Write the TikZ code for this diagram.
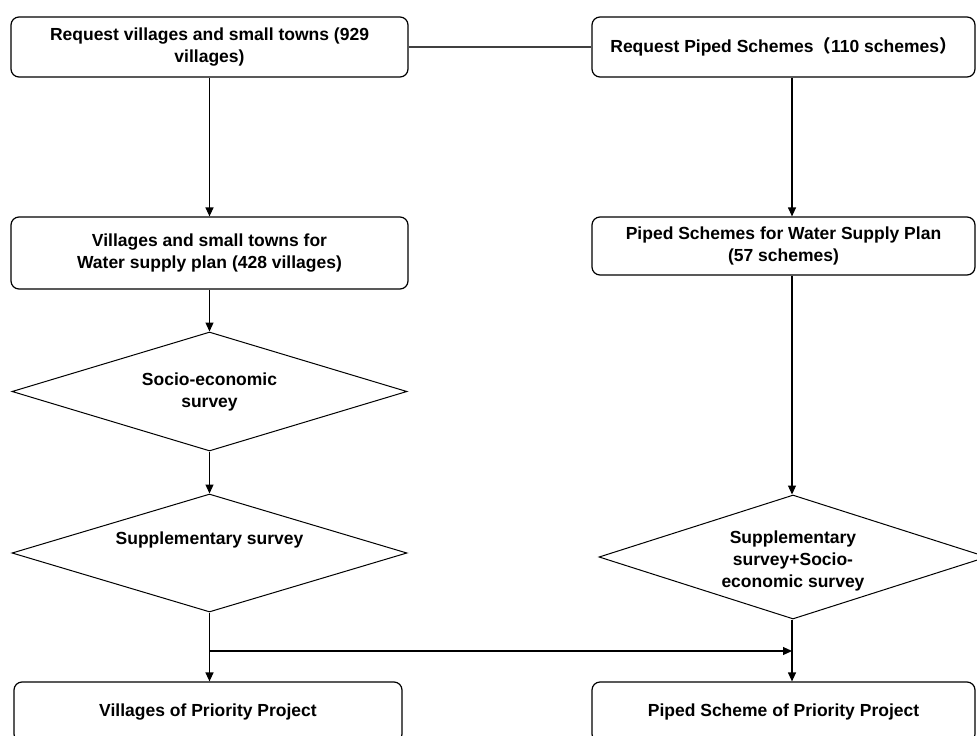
\documentclass[tikz,border=0pt]{standalone}
\usepackage{fontspec}
\setmainfont{Liberation Sans}
\newfontfamily\cjk{Noto Sans CJK SC}
\usepackage{tikz}
\usetikzlibrary{positioning,calc,arrows.meta,shapes.geometric}
\tikzset{flowbox/.style={draw, line width=1.2pt, rounded corners=8pt, align=center, inner sep=0pt, font=\bfseries\fontsize{17.5}{22}\selectfont}}
\tikzset{decide/.style={diamond, draw, line width=1pt, aspect=3.2, inner sep=0pt, align=center, font=\bfseries\fontsize{17.5}{22}\selectfont}}
\tikzset{arr/.style={draw, line width=1.2pt, -{Triangle[length=9pt,width=8pt]}}}
\tikzset{plain/.style={draw, line width=1.5pt, black!75}}

\begin{document}
\begin{tikzpicture}[x=1pt, y=-1pt]
	\useasboundingbox (0,0) rectangle (977,736);
	\clip (0,0) rectangle (977,736);
	% left column
	\node[flowbox, minimum width=397pt, minimum height=60pt] (reqV) at (209.5,47)
		{Request villages and small towns (929\\ villages)};
	\node[flowbox, minimum width=397pt, minimum height=72pt] (planV) at (209.5,253)
		{Villages and small towns for\\ Water supply plan (428 villages)};
	\node[decide, minimum width=395pt, minimum height=119pt] (socio) at (209.5,391.5)
		{Socio-economic\\ survey};
	\node[decide, minimum width=395pt, minimum height=118pt] (supV) at (209.5,553) {};
	\node[font=\bfseries\fontsize{17.5}{22}\selectfont] (supVt) at (209.5,540) {Supplementary survey};
	\node[flowbox, minimum width=388pt, minimum height=60pt] (prioV) at (208,712)
		{Villages of Priority Project};
	% right column
	\node[flowbox, minimum width=383pt, minimum height=60pt] (reqP) at (783.5,47)
		{Request Piped Schemes{\cjk （}110 schemes{\cjk ）}};
	\node[flowbox, minimum width=383pt, minimum height=58pt] (planP) at (783.5,246)
		{Piped Schemes for Water Supply Plan\\ (57 schemes)};
	\node[decide, minimum width=388pt, minimum height=124pt] (supP) at (793,557) {};
	\node[align=center, font=\bfseries\fontsize{17.5}{22}\selectfont] (supPt) at (793,561)
		{Supplementary\\ survey+Socio-\\ economic survey};
	\node[flowbox, minimum width=383pt, minimum height=60pt] (prioP) at (783.5,712)
		{Piped Scheme of Priority Project};
	\coordinate (colR) at (792,0);
	\coordinate (jn) at (209,651);

	\draw[plain] (reqV) -- (reqP);
	\draw[arr] (reqV) -- (planV);
	\draw[arr] (planV) -- (socio);
	\draw[arr] (socio) -- (supV);
	\draw[arr] (supV.south) -- (prioV.north -| supV.south);
	\draw[arr] (reqP.south -| colR) -- (planP.north -| colR);
	\draw[arr] (planP.south -| colR) -- (supP.north -| colR);
	\draw[arr] (supP.south -| colR) -- (prioP.north -| colR);
	\draw[arr] (jn) -- (jn -| colR);
\end{tikzpicture}
\end{document}
